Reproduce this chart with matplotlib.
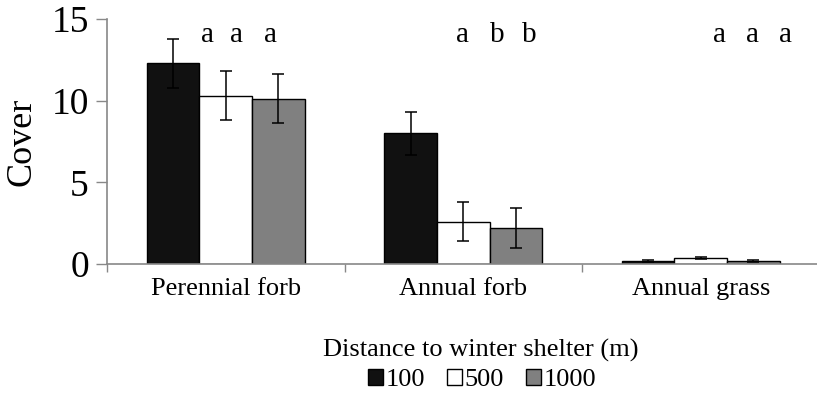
import numpy as np
import matplotlib.pyplot as plt
from matplotlib.patches import Patch

plt.rcParams['font.family'] = ['Liberation Serif', 'DejaVu Serif']

categories = ["Perennial forb", "Annual forb", "Annual grass"]
distances = ["100", "500", "1000"]
cover_100 = [12.3, 8.0, 0.2]
cover_500 = [10.3, 2.6, 0.35]
cover_1000 = [10.1, 2.2, 0.2]
err_100 = [1.5, 1.3, 0.06]
err_500 = [1.5, 1.2, 0.06]
err_1000 = [1.5, 1.2, 0.06]
letters = [["a", "a", "a"], ["a", "b", "b"], ["a", "a", "a"]]

colors = ["#111111", "#ffffff", "#808080"]
series = [cover_100, cover_500, cover_1000]
errors = [err_100, err_500, err_1000]

fig = plt.figure(figsize=(8.17, 3.94), dpi=100)
ax = fig.add_axes([0.131, 0.330, 0.872, 0.622])

x = np.arange(len(categories))
w = 0.222
for i, (vals, errs) in enumerate(zip(series, errors)):
    ax.bar(x + (i - 1) * w, vals, w, color=colors[i], edgecolor="black", linewidth=1.0,
           yerr=errs, capsize=4.5, error_kw=dict(elinewidth=1.1, capthick=1.1, ecolor="black"),
           zorder=2)

# significance letters (offsets)
letter_offsets = [[-0.079, 0.047, 0.19], [-0.005, 0.142, 0.277], [0.081, 0.216, 0.358]]
for ci in range(len(categories)):
    for j in range(3):
        ax.text(x[ci] + letter_offsets[ci][j], 14.0, letters[ci][j], ha="center", va="center",
                fontsize=21)

ax.set_ylim(0, 15)
ax.set_xlim(-0.5, 2.5)
ax.set_yticks([0, 5, 10, 15])
ax.tick_params(axis="y", labelsize=27, length=8, color="#888888", width=1, pad=5)
ax.set_ylabel("Cover", fontsize=26, labelpad=9)

ax.set_xticks([-0.5, 0.5, 1.5, 2.5])
ax.set_xticklabels([])
ax.set_xticks(x, minor=True)
ax.set_xticklabels(categories, minor=True)
ax.tick_params(axis="x", which="major", length=6, color="#888888", width=1)
ax.tick_params(axis="x", which="minor", length=0, labelsize=19, pad=10)

for s in ["top", "right"]:
    ax.spines[s].set_visible(False)
for s in ["left", "bottom"]:
    ax.spines[s].set_color("#888888")
    ax.spines[s].set_linewidth(1.2)

fig.text(0.588, 1 - 350 / 394, "Distance to winter shelter (m)", ha="center", va="center",
         fontsize=19)
handles = [Patch(facecolor=c, edgecolor="black", linewidth=1.0) for c in colors]
fig.legend(handles, distances, ncol=3,
           loc="center", bbox_to_anchor=(0.59, 1 - 380 / 394), frameon=False, fontsize=19,
           handlelength=0.55, handleheight=0.55, handletextpad=0.1,
           columnspacing=0.85, borderpad=0, labelspacing=0)

fig.savefig("out.png", dpi=100)
